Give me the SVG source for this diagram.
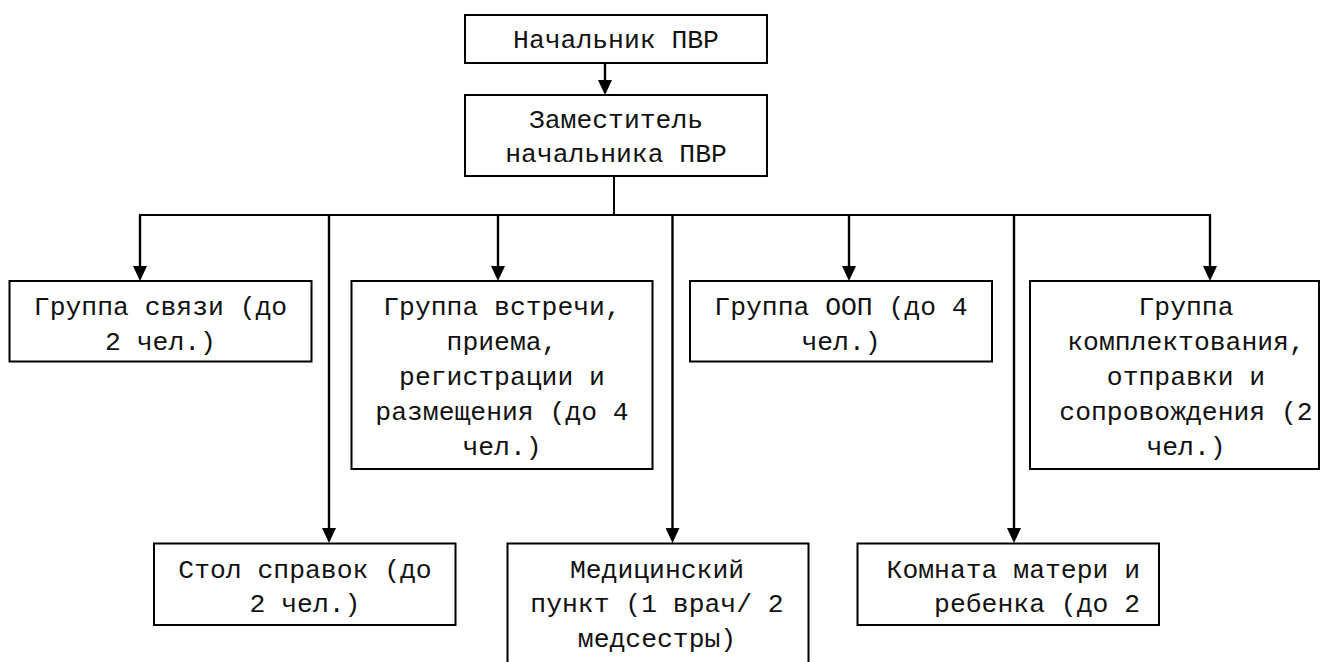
<svg xmlns="http://www.w3.org/2000/svg" width="1322" height="662" viewBox="0 0 1322 662">
<style>
  .box { fill: #ffffff; stroke: #000000; stroke-width: 2; }
  .t { font-family: "Liberation Mono", "Courier New", monospace; font-size: 26.4px; fill: #111111; text-anchor: middle; }
  .te { text-anchor: end; }
  .ln { fill: none; stroke: #000000; stroke-width: 2; }
  .ar { fill: none; stroke: #000000; stroke-width: 2.4; marker-end: url(#ah); }
</style>
<defs>
  <marker id="ah" markerUnits="userSpaceOnUse" viewBox="0 0 15 14" refX="7" refY="7" markerWidth="15" markerHeight="14" orient="auto">
    <path d="M0,0 L15,7 L0,14 Z" fill="#000000"/>
  </marker>
</defs>
<rect width="1322" height="662" fill="#ffffff"/>
<g id="connectors">
  <line class="ar" x1="605" y1="63" x2="605" y2="87"/>
  <line class="ln" x1="614" y1="176" x2="614" y2="215"/>
  <line class="ln" x1="139" y1="215" x2="1211" y2="215"/>
  <line class="ar" x1="140" y1="215" x2="140" y2="273"/>
  <line class="ar" x1="329" y1="215" x2="329" y2="535"/>
  <line class="ar" x1="498" y1="215" x2="498" y2="273"/>
  <line class="ar" x1="672.5" y1="215" x2="672.5" y2="535"/>
  <line class="ar" x1="849" y1="215" x2="849" y2="273"/>
  <line class="ar" x1="1014" y1="215" x2="1014" y2="535"/>
  <line class="ar" x1="1210" y1="215" x2="1210" y2="273"/>
</g>
<g id="n-chief">
  <rect class="box" x="465" y="15" width="302" height="48"/>
  <text class="t" x="616" y="48">Начальник ПВР</text>
</g>
<g id="n-deputy">
  <rect class="box" x="465" y="95" width="302" height="81"/>
  <text class="t" x="616" y="128">Заместитель</text>
  <text class="t" x="616" y="162">начальника ПВР</text>
</g>
<g id="n-svyaz">
  <rect class="box" x="9.5" y="281" width="302" height="80.5"/>
  <text class="t" x="160.5" y="315">Группа связи (до</text>
  <text class="t" x="160.5" y="350">2 чел.)</text>
</g>
<g id="n-vstrechi">
  <rect class="box" x="351.5" y="281" width="301" height="188"/>
  <text class="t" x="502" y="315">Группа встречи,</text>
  <text class="t" x="502" y="350">приема,</text>
  <text class="t" x="502" y="385">регистрации и</text>
  <text class="t" x="502" y="420">размещения (до 4</text>
  <text class="t" x="502" y="455">чел.)</text>
</g>
<g id="n-oop">
  <rect class="box" x="690" y="281" width="302" height="80.5"/>
  <text class="t" x="841" y="315">Группа ООП (до 4</text>
  <text class="t" x="841" y="350">чел.)</text>
</g>
<g id="n-komplekt">
  <rect class="box" x="1030" y="281" width="289" height="188"/>
  <text class="t" x="1186" y="315">Группа</text>
  <text class="t" x="1186" y="350">комплектования,</text>
  <text class="t" x="1186" y="385">отправки и</text>
  <text class="t" x="1186" y="420">сопровождения (2</text>
  <text class="t" x="1186" y="455">чел.)</text>
</g>
<g id="n-stol">
  <rect class="box" x="154" y="543.5" width="301.5" height="81.5"/>
  <text class="t" x="305" y="577.5">Стол справок (до</text>
  <text class="t" x="305" y="612">2 чел.)</text>
</g>
<g id="n-med">
  <rect class="box" x="507.5" y="543.5" width="301" height="130"/>
  <text class="t" x="657" y="577.5">Медицинский</text>
  <text class="t" x="657" y="612">пункт (1 врач/ 2</text>
  <text class="t" x="657" y="646.5">медсестры)</text>
</g>
<g id="n-komnata">
  <rect class="box" x="857.5" y="543.5" width="301.5" height="81.5"/>
  <text class="t te" x="1140" y="577.5">Комната матери и</text>
  <text class="t te" x="1140" y="612">ребенка (до 2</text>
</g>
</svg>
